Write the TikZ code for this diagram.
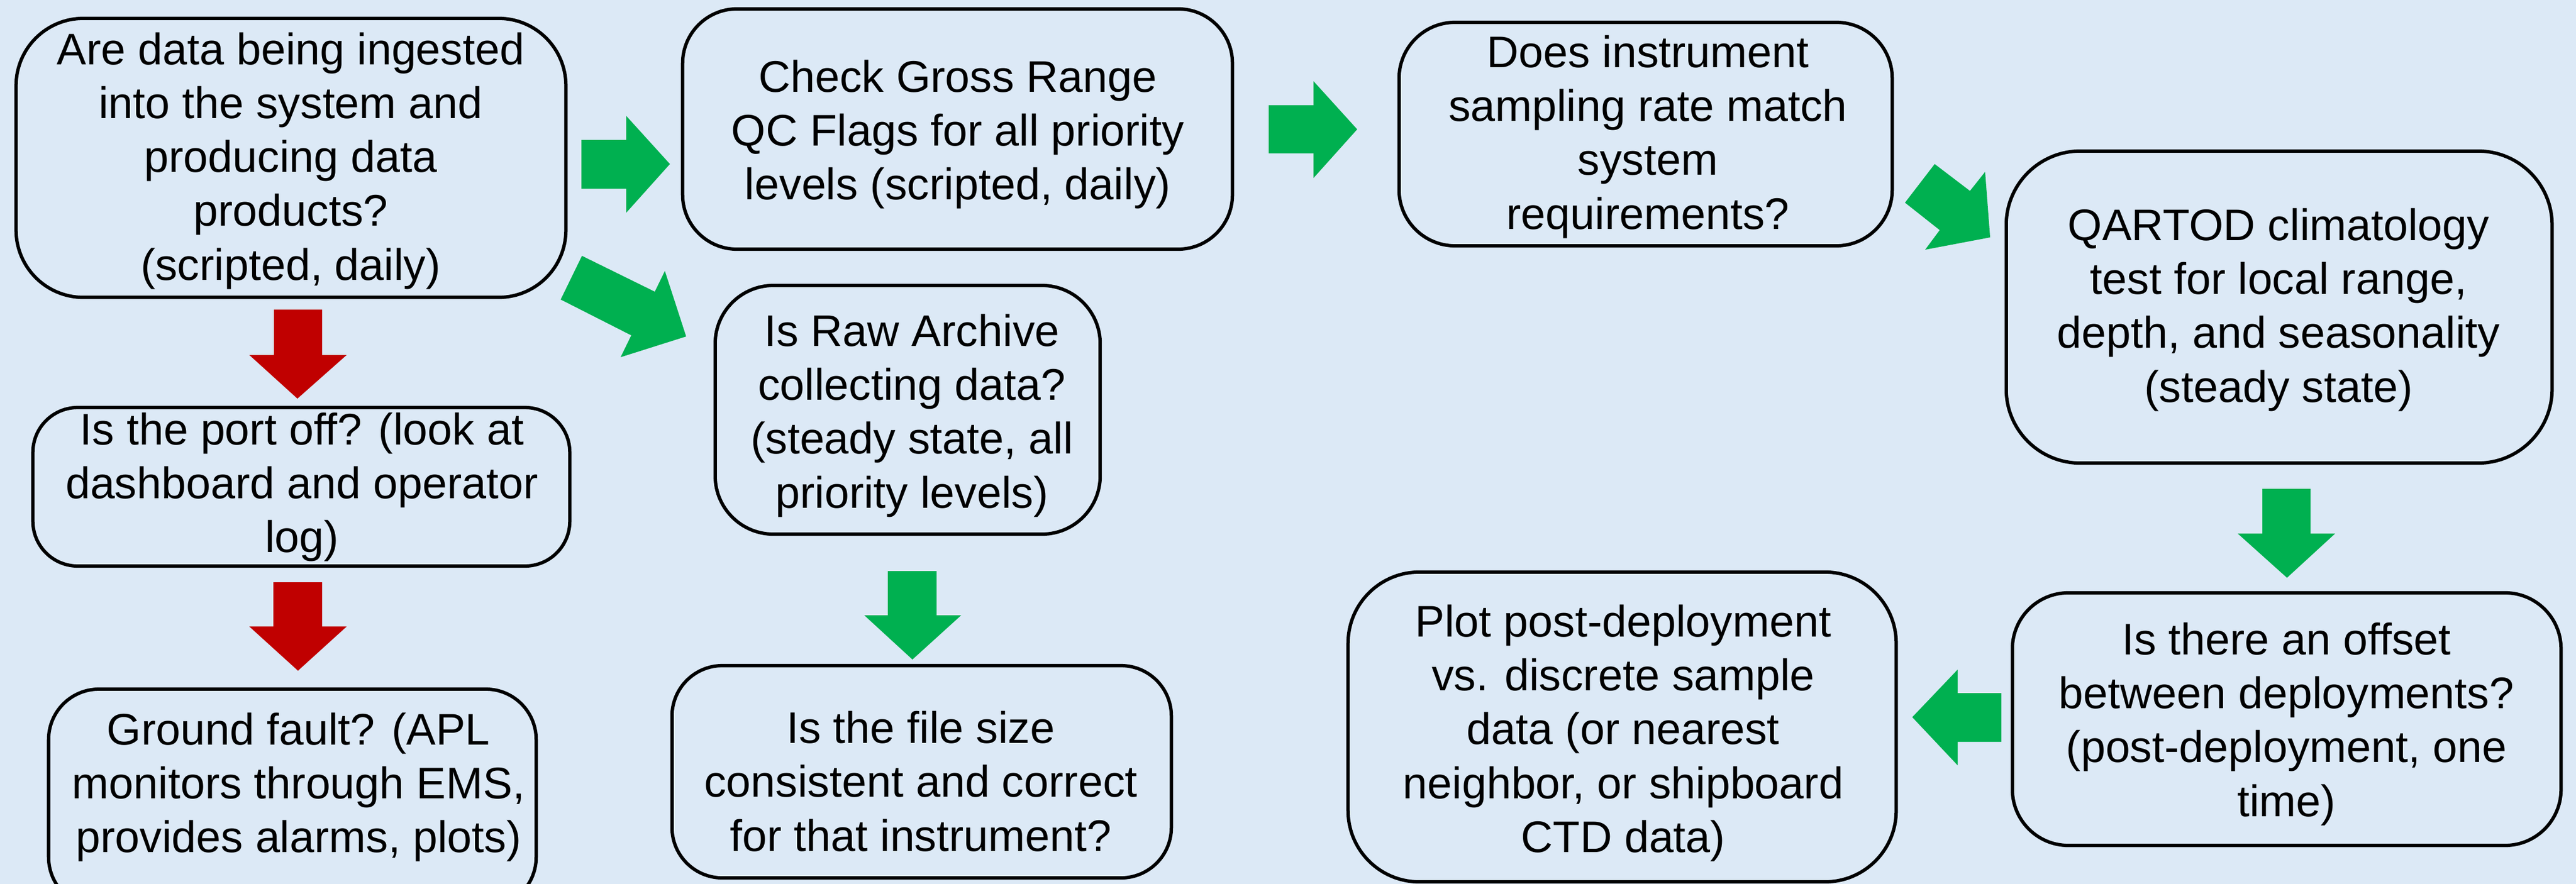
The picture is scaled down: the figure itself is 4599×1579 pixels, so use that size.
\documentclass[tikz,border=0pt]{standalone}
\usepackage{fontspec}
\setmainfont{Liberation Sans}
\definecolor{bg}{HTML}{DCE9F6}
\definecolor{okgreen}{HTML}{00B050}
\definecolor{failred}{HTML}{C00000}
\begin{document}
\begin{tikzpicture}[x=0.01cm,y=-0.01cm,
  box/.style={draw=black, line width=0.06cm, inner sep=0pt, outer sep=0pt},
  txt/.style={inner sep=0pt, align=center, font=\fontsize{22.48pt}{27.31pt}\selectfont},
  okarrow/.style={fill=okgreen},
  failarrow/.style={fill=failred}]
\useasboundingbox (0,0) rectangle (4599,1579);
\fill[bg] (0,0) rectangle (4599,1579);
\clip (0,0) rectangle (4599,1579);

% boxes
\node[box, minimum width=9.81cm, minimum height=4.98cm, rounded corners=1.2cm] (A) at (519.5,282) {};
\node[box, minimum width=9.81cm, minimum height=4.29cm, rounded corners=0.97cm] (B) at (1709.5,230.5) {};
\node[box, minimum width=6.87cm, minimum height=4.44cm, rounded corners=1.04cm] (C) at (1620.5,732) {};
\node[box, minimum width=9.58cm, minimum height=2.83cm, rounded corners=0.8cm] (D) at (538,869.5) {};
\node[box, minimum width=8.70cm, minimum height=3.90cm, rounded corners=0.9cm] (E) at (522,1426) {};
\node[box, minimum width=8.91cm, minimum height=3.79cm, rounded corners=0.9cm] (F) at (1645.5,1378.5) {};
\node[box, minimum width=8.80cm, minimum height=3.99cm, rounded corners=1.0cm] (G) at (2938,239.5) {};
\node[box, minimum width=9.74cm, minimum height=5.57cm, rounded corners=1.32cm] (H) at (4069,548.5) {};
\node[box, minimum width=9.79cm, minimum height=4.51cm, rounded corners=1.0cm] (I) at (4082.5,1284.5) {};
\node[box, minimum width=9.78cm, minimum height=5.53cm, rounded corners=1.27cm] (J) at (2896,1298.5) {};

% texts
\node[txt] (At) at (519,287.5) {\vphantom{(}Are data being ingested\\into the system and\\producing data\\products?\\(scripted, daily)\vphantom{(}};
\node[txt] (Bt) at (1710,240.5) {\vphantom{(}Check Gross Range\\QC Flags for all priority\\levels (scripted, daily)\vphantom{(}};
\node[txt] (Ct) at (1628,742.5) {\vphantom{(}Is Raw Archive\\collecting data?\\(steady state, all\\priority levels)\vphantom{(}};
\node[txt] (Dt) at (539,870.5) {\vphantom{(}Is the port off? (look at\\dashboard and operator\\log)\vphantom{(}};
\node[txt] (Et) at (533,1406.5) {\vphantom{(}Ground fault? (APL\\monitors through EMS,\\provides alarms, plots)\vphantom{(}};
\node[txt] (Ft) at (1644,1403.5) {\vphantom{(}Is the file size\\consistent and correct\\for that instrument?\vphantom{(}};
\node[txt] (Gt) at (2942,244.5) {\vphantom{(}Does instrument\\sampling rate match\\system\\requirements?\vphantom{(}};
\node[txt] (Ht) at (4068,553.5) {\vphantom{(}QARTOD climatology\\test for local range,\\depth, and seasonality\\(steady state)\vphantom{(}};
\node[txt] (It) at (4082,1293.5) {\vphantom{(}Is there an offset\\between deployments?\\(post-deployment, one\\time)\vphantom{(}};
\node[txt] (Jt) at (2898,1309.5) {\vphantom{(}Plot post-deployment\\vs. discrete sample\\data (or nearest\\neighbor, or shipboard\\CTD data)\vphantom{(}};

% block arrows
% A -> B
\fill[okarrow] (1038,250) -- (1118,250) -- (1118,207) -- (1196,293) -- (1118,380) -- (1118,337) -- (1038,337) -- cycle;
% B -> G
\fill[okarrow] (2265,188) -- (2345,188) -- (2345,145) -- (2423,231) -- (2345,318) -- (2345,274) -- (2265,274) -- cycle;
% A -> C
\fill[okarrow] (1039,457) -- (1169,521) -- (1187,484) -- (1225,601) -- (1108,638) -- (1127,599) -- (1001,535) -- cycle;
% A -> D
\fill[failarrow] (489,553) -- (575,553) -- (575,634) -- (619,634) -- (531,712) -- (445,634) -- (489,634) -- cycle;
% D -> E
\fill[failarrow] (488,1040) -- (575,1040) -- (575,1119) -- (619,1119) -- (532,1198) -- (445,1119) -- (488,1119) -- cycle;
% C -> F
\fill[okarrow] (1585,1020) -- (1672,1020) -- (1672,1099) -- (1716,1099) -- (1629,1178) -- (1543,1099) -- (1585,1099) -- cycle;
% G -> H
\fill[okarrow] (3454,293) -- (3517,341) -- (3544,307) -- (3553,424) -- (3437,446) -- (3463,411) -- (3401,362) -- cycle;
% H -> I
\fill[okarrow] (4039,873) -- (4125,873) -- (4125,953) -- (4169,953) -- (4083,1032) -- (3995,953) -- (4039,953) -- cycle;
% I -> J
\fill[okarrow] (3573,1238) -- (3573,1325) -- (3495,1325) -- (3495,1367) -- (3414,1281) -- (3495,1196) -- (3495,1238) -- cycle;
\end{tikzpicture}
\end{document}
